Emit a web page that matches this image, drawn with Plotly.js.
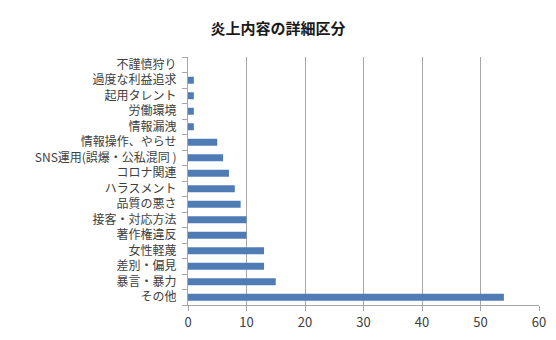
<!DOCTYPE html>
<html><head><meta charset="utf-8">
<script src="https://cdn.plot.ly/plotly-3.0.1.min.js"></script>
<style>html,body{margin:0;padding:0;background:#fff}</style>
</head><body><div id="chart" style="width:556px;height:340px"></div>
<script>
const categories = ["その他","暴言・暴力","差別・偏見","女性軽蔑","著作権違反","接客・対応方法","品質の悪さ","ハラスメント","コロナ関連","SNS運用(誤爆・公私混同 )","情報操作、やらせ","情報漏洩","労働環境","起用タレント","過度な利益追求","不謹慎狩り"];
const counts = [54,15,13,13,10,10,9,8,7,6,5,1,1,1,1,0];
const xTicks = [0,10,20,30,40,50,60];

const font = "'Noto Sans CJK JP', 'Noto Sans', sans-serif";
Plotly.newPlot("chart", [{
  type: "bar", orientation: "h",
  y: categories, x: counts,
  marker: {color: "#4f7cb5"},
  hoverinfo: "none"
}], {
  width: 556, height: 340,
  margin: {l: 188, r: 17, t: 57, b: 35},
  paper_bgcolor: "#fff", plot_bgcolor: "#fff",
  bargap: 0.55,
  title: {text: "<b>炎上内容の詳細区分</b>", x: 0.5, xanchor: "center", y: 0.915, yanchor: "middle",
          font: {family: font, size: 15, color: "#1a1a1a"}},
  font: {family: font, size: 12, color: "#404040"},
  xaxis: {range: [0, 60], tickvals: xTicks, showgrid: true, gridcolor: "#a6a6a6", gridwidth: 1,
          zeroline: false, showline: true, linecolor: "#a6a6a6", ticks: "outside", ticklen: 5,
          tickcolor: "#a6a6a6", tickfont: {size: 13, color: "#404040"}, fixedrange: true},
  yaxis: {type: "category", tickmode: "array", tickvals: categories, ticktext: categories,
          showline: true, linecolor: "#a6a6a6", ticks: "outside", ticklen: 5,
          tickcolor: "#a6a6a6", tickson: "boundaries", showgrid: false, ticklabelstandoff: 8,
          tickfont: {size: 12, color: "#404040"}, fixedrange: true},
  showlegend: false
}, {displayModeBar: false, staticPlot: true});
</script></body></html>
